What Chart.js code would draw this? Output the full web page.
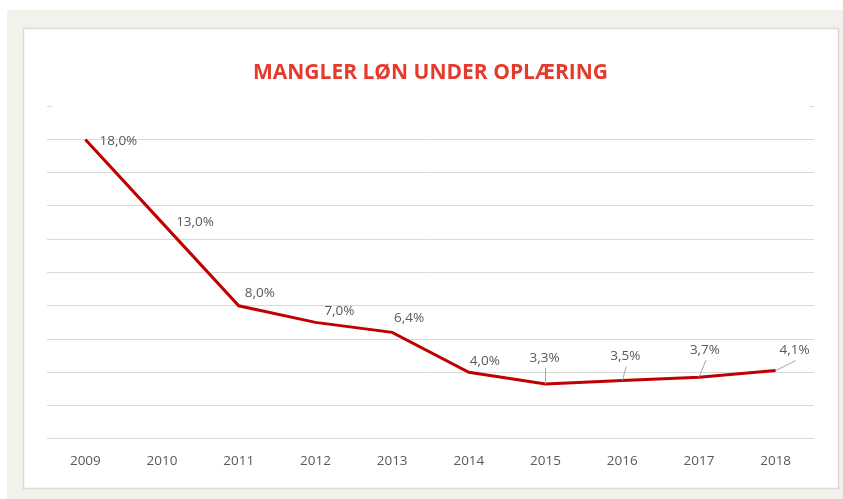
<!DOCTYPE html>
<html>
<head>
<meta charset="utf-8">
<script src="https://cdn.jsdelivr.net/npm/chart.js@4"></script>
<style>
  html, body { margin: 0; padding: 0; background: #ffffff; }
  #wrap { position: relative; width: 843px; height: 499px; }
</style>
</head>
<body>
<div id="wrap"><canvas id="myChart" width="843" height="499"></canvas></div>
<script>
'use strict';
//--------------------DATA

let years = ['2009', '2010', '2011', '2012', '2013', '2014', '2015', '2016', '2017', '2018'];
let shares = [18.0, 13.0, 8.0, 7.0, 6.4, 4.0, 3.3, 3.5, 3.7, 4.1];
let yTicks = [0, 2, 4, 6, 8, 10, 12, 14, 16, 18, 20];

// label placement relative to each point (dx, dy, leader line)
let labelOffsets = [
  [33, 2, false], [33, 0, false], [21, -13, false], [24, -11, false], [17, -14, false],
  [16, -11, false], [-1, -26, true], [3, -24, true], [6, -27, true], [19, -20, true],
];

//--------------------HELPERS

function pct(v) {
  return v.toFixed(1).replace('.', ',') + '%';
}

//--------------------PLUGINS

// gray frame + white panel behind the chart
let framePlugin = {
  id: 'frame',
  beforeDraw(chart) {
    let ctx = chart.ctx;
    ctx.save();
    ctx.fillStyle = '#f2f1ec';
    ctx.fillRect(7, 10, 843 - 7, 499 - 10);
    ctx.fillStyle = '#ffffff';
    ctx.fillRect(23, 28, 815, 460);
    ctx.strokeStyle = '#d9d9d9';
    ctx.lineWidth = 1.5;
    ctx.strokeRect(23.5, 28.5, 815, 460);
    ctx.restore();
  },
  // top gridline only shows as small stubs at both ends
  afterDraw(chart) {
    let ctx = chart.ctx;
    let area = chart.chartArea;
    let y = Math.round(chart.scales.y.getPixelForValue(20)) + 0.5;
    ctx.save();
    ctx.strokeStyle = '#d9d9d9';
    ctx.lineWidth = 1;
    ctx.beginPath();
    ctx.moveTo(area.left, y);
    ctx.lineTo(area.left + 5, y);
    ctx.moveTo(area.right - 5, y);
    ctx.lineTo(area.right, y);
    ctx.stroke();
    ctx.restore();
  },
};

// value labels with leader lines
let labelPlugin = {
  id: 'valueLabels',
  afterDatasetsDraw(chart) {
    let ctx = chart.ctx;
    let points = chart.getDatasetMeta(0).data;
    ctx.save();
    ctx.font = '13.5px "Open Sans"';
    ctx.textAlign = 'center';
    ctx.textBaseline = 'middle';
    for (let i = 0; i < points.length; i++) {
      let p = points[i];
      let off = labelOffsets[i];
      let lx = p.x + off[0];
      let ly = p.y + off[1];
      if (off[2]) {
        ctx.strokeStyle = '#a6a6a6';
        ctx.lineWidth = 1;
        ctx.beginPath();
        ctx.moveTo(p.x, p.y);
        ctx.lineTo(lx + 1, ly + 10);
        ctx.stroke();
      }
      ctx.fillStyle = '#595959';
      ctx.fillText(pct(shares[i]), lx, ly);
    }
    ctx.restore();
  },
};

//--------------------CHART

let config = {
  type: 'line',
  data: {
    labels: years,
    datasets: [{
      data: shares,
      borderColor: '#c00000',
      borderWidth: 3,
      pointRadius: 0,
      tension: 0,
    }],
  },
  options: {
    responsive: false,
    animation: false,
    layout: { padding: { left: 47, right: 29, top: 0, bottom: 16 } },
    plugins: {
      legend: { display: false },
      tooltip: { enabled: false },
      title: {
        display: true,
        text: 'MANGLER LØN UNDER OPLÆRING',
        color: '#e53b2c',
        font: { family: '"Open Sans"', size: 21, weight: 'bold' },
        padding: { top: 60, bottom: 21 },
      },
    },
    scales: {
      x: {
        offset: true,
        grid: { display: false, drawTicks: false },
        border: { display: false },
        ticks: { color: '#595959', font: { family: '"Open Sans"', size: 13.5 }, padding: 14 },
      },
      y: {
        min: 0,
        max: 20,
        afterBuildTicks(axis) {
          axis.ticks = yTicks.map(v => ({ value: v }));
        },
        grid: {
          drawTicks: false,
          color: ctx => (ctx.tick && ctx.tick.value === 20 ? 'rgba(0,0,0,0)' : '#d9d9d9'),
        },
        border: { display: false },
        ticks: { display: false },
      },
    },
  },
  plugins: [framePlugin, labelPlugin],
};

const myChart = new Chart(document.getElementById('myChart'), config);
</script>
</body>
</html>
